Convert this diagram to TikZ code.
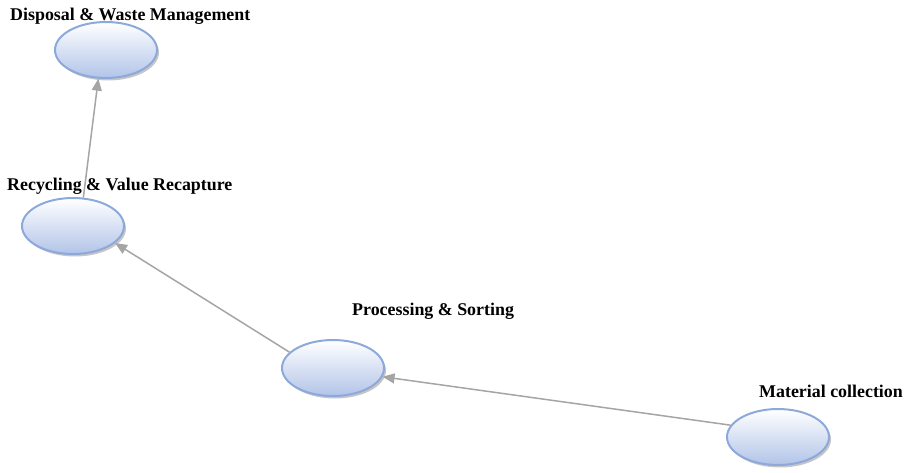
\documentclass[tikz,border=0pt]{standalone}
\usepackage{fontspec}
\setmainfont{Liberation Serif}
\usetikzlibrary{shapes.geometric,shadows,arrows.meta}

\definecolor{stageline}{RGB}{141,169,219}
\definecolor{stagefill}{RGB}{178,196,232}
\definecolor{flowgray}{RGB}{165,165,165}

\tikzset{
  stage/.style={ellipse, draw=stageline, line width=2pt, top color=white,
    bottom color=stagefill, minimum width=102pt, minimum height=56pt, inner sep=0pt,
    drop shadow={shadow xshift=2pt, shadow yshift=-2.5pt, opacity=0.45, fill=gray}},
  caption/.style={anchor=base west, inner sep=0pt,
    font=\fontsize{17.9}{21}\selectfont\bfseries},
  flow/.style={draw=flowgray, line width=1.5pt,
    -{Triangle[length=12pt, width=10pt]}}
}

\begin{document}
\begin{tikzpicture}[x=1pt, y=-1pt]
  \useasboundingbox (0,0) rectangle (904,473);

  % stages of the material flow
  \node [stage] (dispose) at (106,50) {};
  \node [stage] (recycle) at (73,226) {};
  \node [stage] (process) at (333,368) {};
  \node [stage] (collect) at (778,437) {};

  % their titles
  \node [caption] (disposeT) at (10,20.5) {Disposal \& Waste Management};
  \node [caption] (recycleT) at (7,190) {Recycling \& Value Recapture};
  \node [caption] (processT) at (352,315) {Processing \& Sorting};
  \node [caption] (collectT) at (759,397) {Material collection};

  \draw [flow] (collect.166) -- (process.-10);
  \draw [flow] (process.160) -- (recycle.-22);
  \draw [flow] (recycle.70) -- (dispose.-105);
\end{tikzpicture}
\end{document}
